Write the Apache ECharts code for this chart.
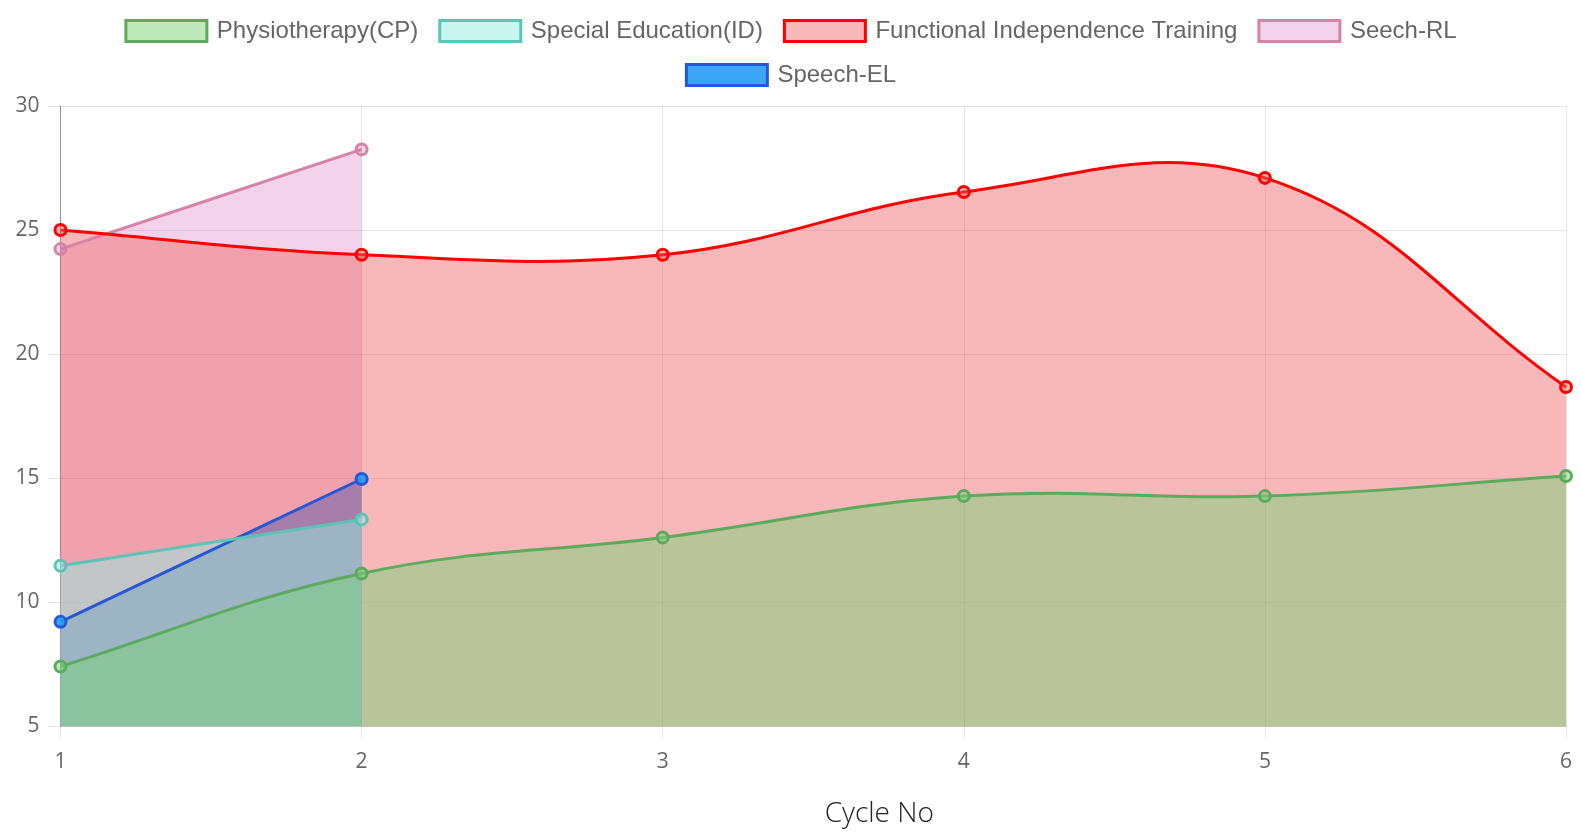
<!DOCTYPE html>
<html>
<head>
<meta charset="utf-8">
<script src="https://cdn.jsdelivr.net/npm/echarts@6/dist/echarts.min.js"></script>
<style>
html,body{margin:0;padding:0;background:#fff;}
#chart{width:1581px;height:836px;}
</style>
</head>
<body>
<div id="chart"></div>
<script>
const cycles = ['1','2','3','4','5','6'];
const yTicks = [5,10,15,20,25,30];
const physiotherapy = [7.4, 11.15, 12.6, 14.27, 14.27, 15.08];
const specialEducation = [11.46, 13.33];
const functionalTraining = [25.0, 24.0, 24.0, 26.53, 27.1, 18.67];
const seechRL = [24.23, 28.25];
const speechEL = [9.2, 14.96];

const names = ['Physiotherapy(CP)','Special Education(ID)','Functional Independence Training','Seech-RL','Speech-EL'];
const styles = {
  'Physiotherapy(CP)': {fill:'rgba(121,209,121,0.5)', line:'#5cab5c'},
  'Special Education(ID)': {fill:'rgba(147,235,223,0.5)', line:'#5cc4b6'},
  'Functional Independence Training': {fill:'rgba(239,97,99,0.45)', line:'#ff0000'},
  'Seech-RL': {fill:'rgba(215,108,192,0.3)', line:'#d684a6'},
  'Speech-EL': {fill:'rgba(40,155,245,0.9)', line:'#2358d6'}
};
const values = {
  'Physiotherapy(CP)': physiotherapy,
  'Special Education(ID)': specialEducation,
  'Functional Independence Training': functionalTraining,
  'Seech-RL': seechRL,
  'Speech-EL': speechEL
};
const TENSION = 0.4;

function legendItem(n){
  return {name:n, icon:'rect', itemStyle:{color:styles[n].fill, borderColor:styles[n].line, borderWidth:3}};
}
const legendText = {color:'#666', fontSize:24, fontFamily:'Liberation Sans, Arial, sans-serif', padding:[0,0,0,5]};

// Chart.js-style spline control points
function controlPoints(pts, area){
  return pts.map((p, i) => {
    const prev = i > 0 ? pts[i-1] : p;
    const next = i < pts.length-1 ? pts[i+1] : p;
    const d01 = Math.hypot(p[0]-prev[0], p[1]-prev[1]);
    const d12 = Math.hypot(next[0]-p[0], next[1]-p[1]);
    let s01 = d01/(d01+d12), s12 = d12/(d01+d12);
    if (isNaN(s01)) s01 = 0;
    if (isNaN(s12)) s12 = 0;
    const fa = TENSION*s01, fb = TENSION*s12;
    const clamp = q => [Math.min(Math.max(q[0], area.x), area.x+area.width), Math.min(Math.max(q[1], area.y), area.y+area.height)];
    return {
      prev: clamp([p[0]-fa*(next[0]-prev[0]), p[1]-fa*(next[1]-prev[1])]),
      next: clamp([p[0]+fb*(next[0]-prev[0]), p[1]+fb*(next[1]-prev[1])])
    };
  });
}

function curvePath(pts, area){
  const cps = controlPoints(pts, area);
  let d = 'M' + pts[0][0] + ' ' + pts[0][1];
  for (let i = 1; i < pts.length; i++) {
    const a = cps[i-1].next, b = cps[i].prev, p = pts[i];
    d += ' C' + a[0] + ' ' + a[1] + ' ' + b[0] + ' ' + b[1] + ' ' + p[0] + ' ' + p[1];
  }
  return d;
}

function makeSeries(n, part){
  const vals = values[n];
  const st = styles[n];
  return {
    name:n,
    type:'custom',
    coordinateSystem:'cartesian2d',
    data: vals.map((v,i)=>[i,v]),
    encode:{x:0, y:1},
    silent:true,
    animation:false,
    itemStyle:{color:st.fill, borderColor:st.line},
    renderItem:function(params, api){
      if (params.dataIndex !== 0) return null;
      const area = params.coordSys;
      const pts = vals.map((v,i)=>api.coord([i, v]));
      const d = curvePath(pts, area);
      if (part === 'area') {
        const baseY = api.coord([0, yTicks[0]])[1];
        const last = pts[pts.length-1];
        const areaD = d + ' L' + last[0] + ' ' + baseY + ' L' + pts[0][0] + ' ' + baseY + ' Z';
        return {type:'path', shape:{pathData:areaD}, style:{fill:st.fill, stroke:null}};
      }
      const children = [
        {type:'path', shape:{pathData:d}, style:{fill:null, stroke:st.line, lineWidth:3, lineJoin:'round'}}
      ];
      pts.forEach(p => children.push({type:'circle', shape:{cx:p[0], cy:p[1], r:5.5}, style:{fill:st.fill, stroke:st.line, lineWidth:3}}));
      return {type:'group', children:children};
    }
  };
}

// all fills first, then lines; reversed so Physiotherapy sits on top
const order = names.slice().reverse();
const series = order.map(n => makeSeries(n, 'area')).concat(order.map(n => makeSeries(n, 'line')));

const chart = echarts.init(document.getElementById('chart'), null, {renderer:'canvas'});
chart.setOption({
  backgroundColor:'#fff',
  animation:false,
  legend:[
    {data:names.slice(0,4).map(legendItem), top:14, left:'center', itemWidth:81, itemHeight:21, itemGap:20, textStyle:legendText, selectedMode:false},
    {data:names.slice(4).map(legendItem), top:58, left:'center', itemWidth:81, itemHeight:21, itemGap:20, textStyle:legendText, selectedMode:false}
  ],
  grid:{left:60.5, right:15, top:106, bottom:110, containLabel:false},
  xAxis:{
    type:'category',
    data:cycles,
    boundaryGap:false,
    name:'Cycle No',
    nameLocation:'middle',
    nameGap:74,
    nameTextStyle:{color:'#222', fontSize:28, fontWeight:300, fontFamily:'Open Sans, sans-serif', padding:[0,0,0,132]},
    axisLine:{show:true, lineStyle:{color:'rgba(0,0,0,0.15)', width:1}},
    axisTick:{show:true, length:12, lineStyle:{color:'rgba(0,0,0,0.1)'}},
    axisLabel:{color:'#666', fontSize:21, fontFamily:'Open Sans, sans-serif', margin:26},
    splitLine:{show:true, lineStyle:{color:'rgba(0,0,0,0.1)', width:1}}
  },
  yAxis:{
    type:'value',
    min:yTicks[0],
    max:yTicks[yTicks.length-1],
    interval:5,
    axisLine:{show:true, lineStyle:{color:'rgba(0,0,0,0.35)', width:1}},
    axisTick:{show:true, length:12, lineStyle:{color:'rgba(0,0,0,0.1)'}},
    axisLabel:{color:'#666', fontSize:21, fontFamily:'Open Sans, sans-serif', margin:21},
    splitLine:{show:true, lineStyle:{color:'rgba(0,0,0,0.1)', width:1}}
  },
  series:series
});
</script>
</body>
</html>
